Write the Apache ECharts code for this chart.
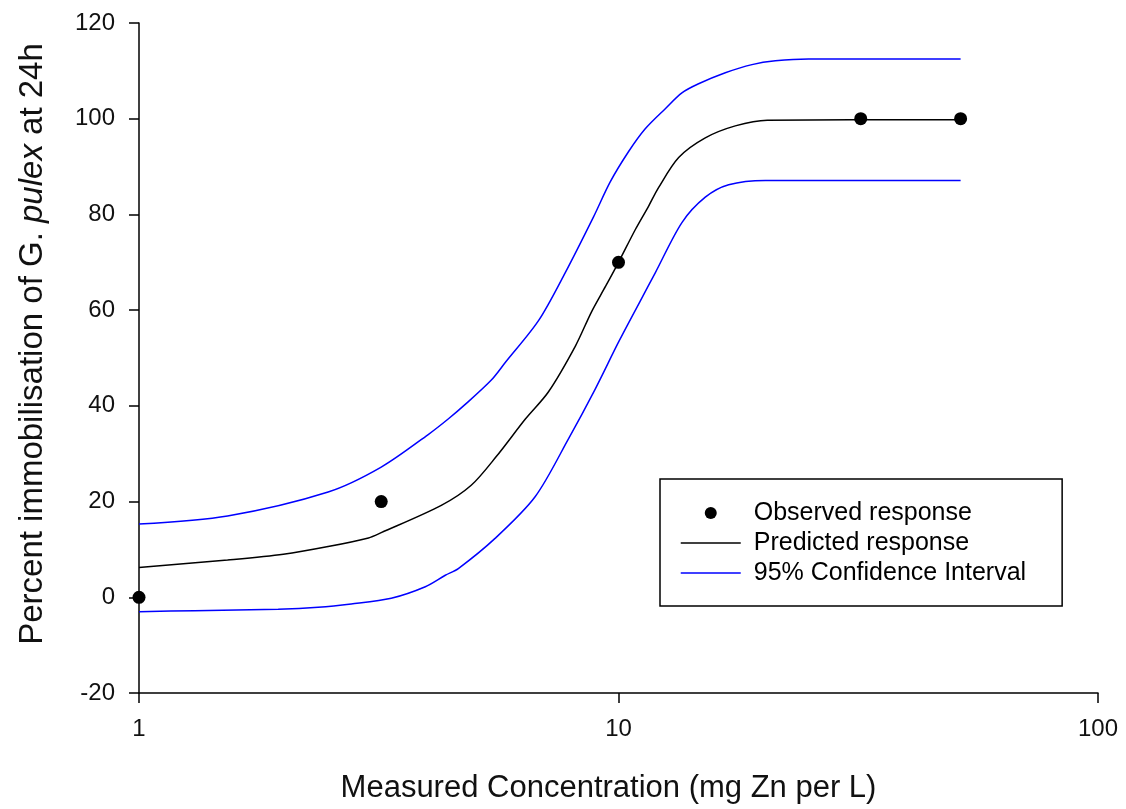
<!DOCTYPE html>
<html>
<head>
<meta charset="utf-8">
<script src="https://cdn.jsdelivr.net/npm/echarts@6/dist/echarts.min.js"></script>
<style>
html,body{margin:0;padding:0;background:#fff;}
#chart{width:1126px;height:809px;}
</style>
</head>
<body>
<div id="chart"></div>
<script>
// Observed data
var obsX = [1, 3.2, 10, 32, 51.7];
var obsY = [0, 20, 70, 100, 100];

// Predicted response
var predX = [1, 1.53, 2.0, 2.48, 3.01, 3.2, 4.27, 4.93, 5.56, 6.4, 7.14, 8.13, 8.78, 9.4, 10, 10.85, 11.55, 12.12, 13.35, 15.17, 17.52, 20.43, 51.7];
var predY = [6.2, 7.8, 9.0, 10.6, 12.4, 13.5, 19.2, 23.4, 29.4, 37.3, 42.9, 52.5, 59.6, 65, 70, 76.9, 81.7, 85.6, 91.9, 96.0, 98.5, 99.7, 99.8];

// Upper 95% confidence limit
var upperX = [1, 1.53, 2.48, 3.2, 4.01, 4.42, 4.79, 5.43, 5.8, 6.81, 7.74, 8.87, 9.61, 10.49, 11.37, 12.52, 13.56, 14.69, 16.70, 18.98, 21.24, 24.9, 51.7];
var upperY = [15.3, 17.0, 22.0, 27.2, 34.0, 37.3, 40.3, 45.4, 49.0, 57.8, 67.8, 79.5, 86.8, 93.1, 97.9, 102.1, 105.4, 107.3, 109.6, 111.3, 112.1, 112.5, 112.5];

// Lower 95% confidence limit
var lowerX = [1, 1.307, 1.951, 2.364, 2.771, 3.358, 3.955, 4.353, 4.634, 5.528, 6.70, 7.864, 8.942, 10, 11.10, 11.93, 13.56, 15.17, 16.97, 20.24, 51.7];
var lowerY = [-3.0, -2.8, -2.5, -2.1, -1.4, -0.2, 2.2, 4.6, 6.0, 12.3, 21.0, 33.1, 43.5, 53.3, 61.9, 67.8, 78.3, 83.6, 86.2, 87.1, 87.1];

// Axis ticks
var yMin = -20, yMax = 120, yStep = 20;
var xMin = 1, xMax = 100;

var seriesNames = ['Observed response', 'Predicted response', '95% Confidence Interval'];

function pairs(xs, ys) {
  return xs.map(function (x, i) { return [x, ys[i]]; });
}

var FONT = '"Liberation Sans", Arial, sans-serif';
var chart = echarts.init(document.getElementById('chart'), null, {renderer: 'canvas'});

chart.setOption({
  animation: false,
  backgroundColor: '#fff',
  textStyle: {fontFamily: FONT, color: '#000'},
  grid: {left: 139, right: 28, top: 23, bottom: 114, containLabel: false},
  legend: {
    orient: 'vertical',
    left: 660,
    top: 479,
    padding: [19, 36, 18, 20],
    itemGap: 0,
    itemWidth: 60,
    itemHeight: 12,
    borderColor: '#000',
    borderWidth: 1.5,
    borderRadius: 0,
    textStyle: {fontSize: 25, color: '#000', fontFamily: FONT, lineHeight: 30, padding: [0, 0, 0, 8]},
    data: [
      {name: seriesNames[0], icon: 'circle', itemStyle: {color: '#000', opacity: 1}},
      {name: seriesNames[1], itemStyle: {opacity: 0}, lineStyle: {color: '#000', width: 1.5}},
      {name: seriesNames[2], itemStyle: {opacity: 0}, lineStyle: {color: '#0000ff', width: 1.5}}
    ]
  },
  xAxis: {
    type: 'log',
    logBase: 10,
    min: xMin,
    max: xMax,
    name: 'Measured Concentration (mg Zn per L)',
    nameLocation: 'middle',
    nameGap: 80,
    nameTextStyle: {fontSize: 31, color: '#111', fontFamily: FONT, padding: [0, 20, 0, 0]},
    axisLine: {show: true, onZero: false, lineStyle: {color: '#000', width: 1.5}},
    axisTick: {show: true, inside: false, length: 10, lineStyle: {color: '#000', width: 1.5}},
    minorTick: {show: false},
    axisLabel: {fontSize: 24, color: '#111', margin: 24, fontFamily: FONT},
    splitLine: {show: false}
  },
  yAxis: {
    type: 'value',
    min: yMin,
    max: yMax,
    interval: yStep,
    name: 'Percent immobilisation of G. {it|pulex} at 24h',
    nameLocation: 'middle',
    nameGap: 90,
    nameRotate: 90,
    nameTextStyle: {
      fontSize: 33, color: '#111', fontFamily: FONT, padding: [0, 0, 0, 28],
      rich: {it: {fontSize: 33, fontStyle: 'italic', color: '#111', fontFamily: FONT}}
    },
    axisLine: {show: true, onZero: false, lineStyle: {color: '#000', width: 1.5}},
    axisTick: {show: true, inside: false, length: 10, lineStyle: {color: '#000', width: 1.5}},
    axisLabel: {fontSize: 24, color: '#111', margin: 24, fontFamily: FONT},
    splitLine: {show: false}
  },
  series: [
    {
      name: seriesNames[2],
      type: 'line',
      data: pairs(upperX, upperY),
      smooth: 0.3,
      symbol: 'none',
      lineStyle: {color: '#0000ff', width: 1.5},
      itemStyle: {color: '#0000ff'},
      z: 2
    },
    {
      name: seriesNames[2],
      type: 'line',
      data: pairs(lowerX, lowerY),
      smooth: 0.3,
      symbol: 'none',
      lineStyle: {color: '#0000ff', width: 1.5},
      itemStyle: {color: '#0000ff'},
      z: 2
    },
    {
      name: seriesNames[1],
      type: 'line',
      data: pairs(predX, predY),
      smooth: 0.3,
      symbol: 'none',
      lineStyle: {color: '#000', width: 1.5},
      itemStyle: {color: '#000'},
      z: 3
    },
    {
      name: seriesNames[0],
      type: 'scatter',
      data: pairs(obsX, obsY),
      symbol: 'circle',
      symbolSize: 13,
      itemStyle: {color: '#000', opacity: 1},
      z: 4
    }
  ]
});
</script>
</body>
</html>
